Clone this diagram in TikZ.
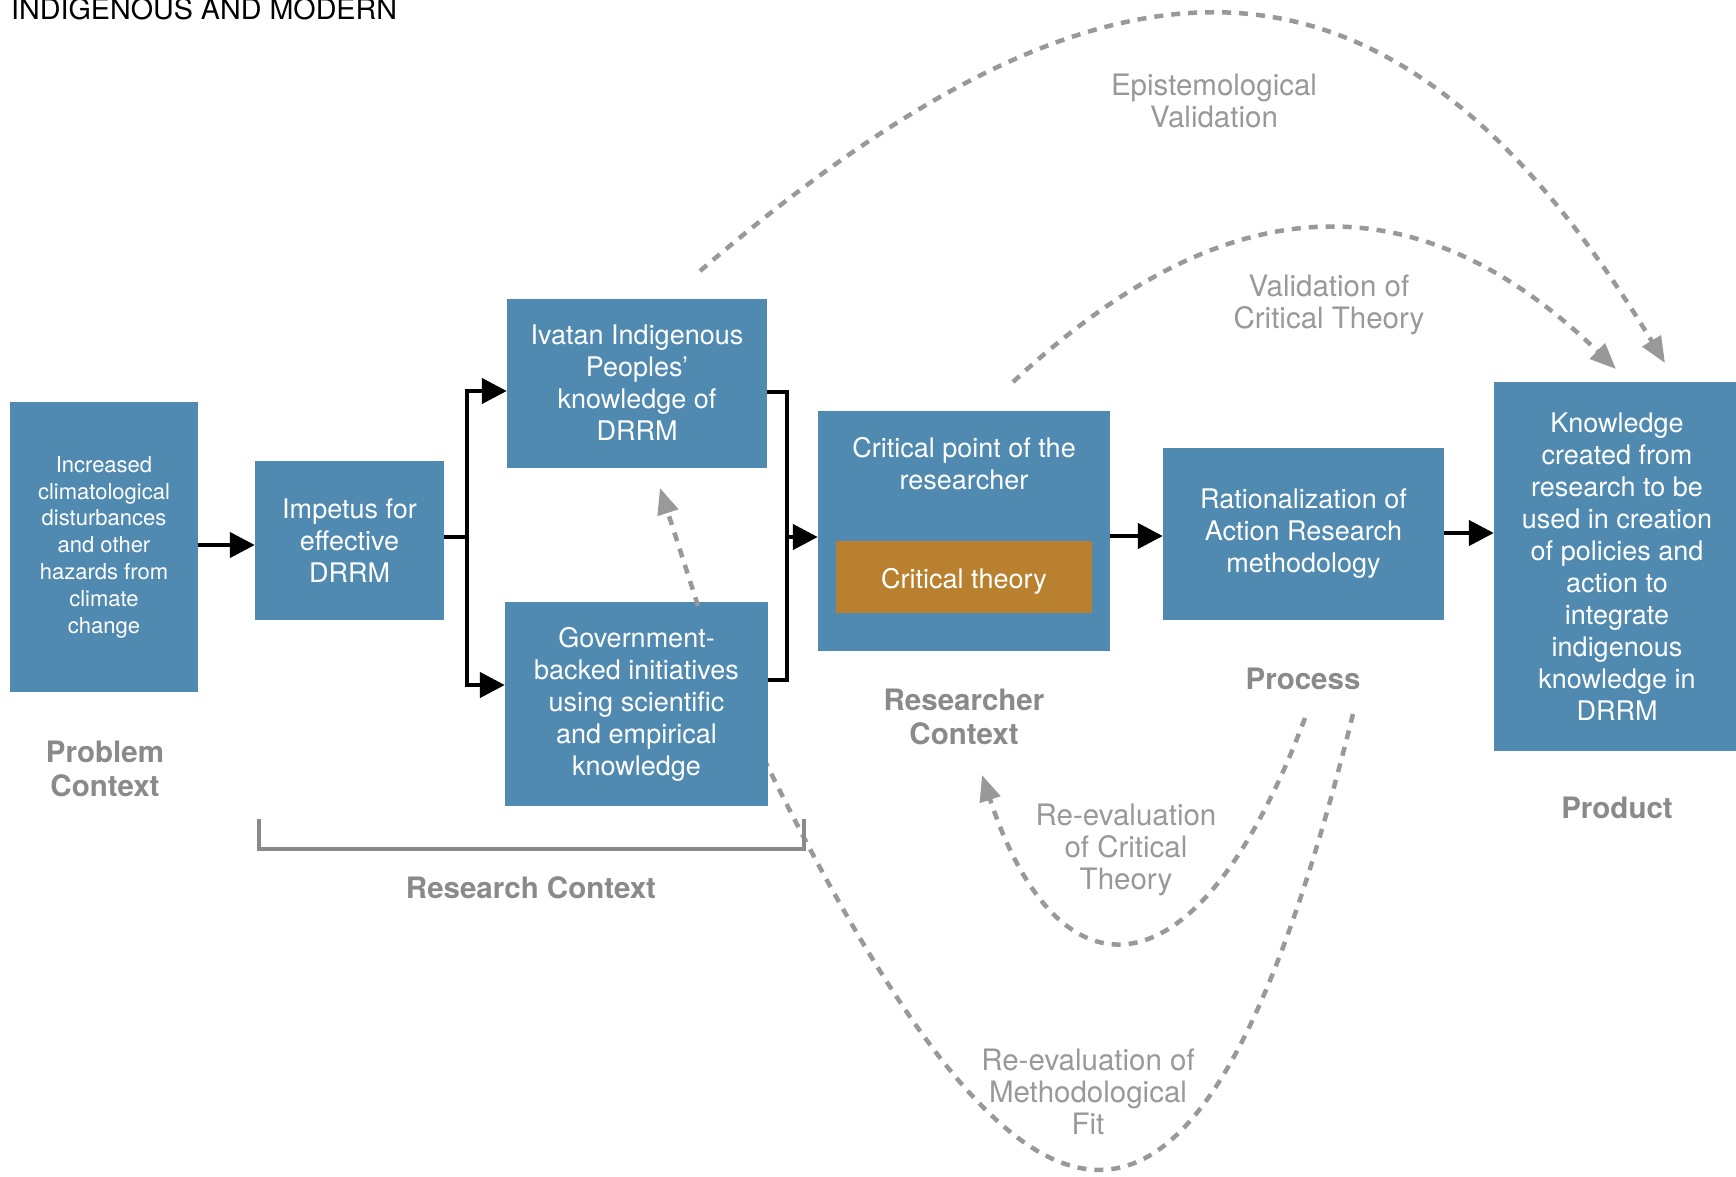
\documentclass[tikz,border=0pt]{standalone}
\usepackage{fontspec}
\setmainfont{TeX Gyre Heros}
\usetikzlibrary{arrows.meta}
\definecolor{boxblue}{HTML}{508AB1}
\definecolor{boxorange}{HTML}{B8802F}
\definecolor{lblgray}{HTML}{8A8A8A}
\definecolor{dashgray}{HTML}{999999}
\begin{document}
\begin{tikzpicture}[x=1pt,y=-1pt,
  box/.style={fill=boxblue, text=white, align=center, inner sep=0pt, anchor=center,
              font=\fontsize{27}{32}\selectfont},
  ctxlbl/.style={text=lblgray, align=center, font=\bfseries\fontsize{29.5}{34}\selectfont},
  fblbl/.style={text=dashgray, align=center, font=\fontsize{29.5}{32}\selectfont},
  flow/.style={line width=4.5pt, draw=black, -{Triangle[length=25pt,width=25pt]}},
  plain/.style={line width=4.5pt, draw=black},
  fb/.style={draw=dashgray, line width=4.5pt, dash pattern=on 9pt off 8pt},
  fbarrow/.style={fb, -{Triangle[length=26pt,width=21pt]}}]
\useasboundingbox (0,0) rectangle (1736,1176);
\fill[white] (0,0) rectangle (1736,1176);

% title
\node[anchor=base west, inner sep=0pt, font=\fontsize{28.7}{30}\selectfont] (title) at (11,19) {INDIGENOUS AND MODERN};

% feedback curve hidden partly behind the government box
\coordinate (m1) at (1353,714);
\coordinate (m2) at (762,755);
\draw[fb] (m1) .. controls (1200,1330) and (1030,1300) .. (m2);

% boxes
\node[box, minimum width=188pt, minimum height=290pt, font=\fontsize{22}{26.8}\selectfont] (prob) at (104,547)
  {Increased\\climatological\\disturbances\\and other\\hazards from\\climate\\change};
\node[box, minimum width=189pt, minimum height=159pt] (imp) at (349.5,540.5)
  {Impetus for\\effective\\DRRM};
\node[box, minimum width=260pt, minimum height=169pt] (iva) at (637,383)
  {Ivatan Indigenous\\Peoples’\\knowledge of\\DRRM};
\node[box, minimum width=263pt, minimum height=204pt] (gov) at (636.5,704)
  {Government-\\backed initiatives\\using scientific\\and empirical\\knowledge};
\node[box, minimum width=292pt, minimum height=240pt] (crit) at (964,531) {};
\node[box, fill=none, anchor=center] (crittxt) at (964,464) {Critical point of the\\researcher};
\node[box, fill=boxorange, minimum width=256pt, minimum height=72pt] (ct) at (964,577) {};
\node[box, fill=none] (cttxt) at (964,581) {Critical theory};
\node[box, minimum width=281pt, minimum height=172pt] (rat) at (1303.5,534)
  {Rationalization of\\Action Research\\methodology};
\node[box, minimum width=246pt, minimum height=369pt] (know) at (1617,566.5)
  {Knowledge\\created from\\research to be\\used in creation\\of policies and\\action to\\integrate\\indigenous\\knowledge in\\DRRM};

% main flow
\draw[flow] (prob.east |- 0,545) -- (imp.west |- 0,545);
\coordinate (bl) at (467,537);
\draw[plain] (imp.east |- bl) -- (bl);
\draw[plain, line join=miter] (bl |- 0,391) -- (bl |- 0,685);
\draw[flow] ([xshift=-2.25pt]bl |- 0,391) -- (iva.west |- 0,391);
\draw[flow] ([xshift=-2.25pt]bl |- 0,685) -- (gov.west |- 0,685);
\coordinate (br) at (787,537);
\draw[plain, line join=miter] (iva.east |- 0,392) -| (br) |- (gov.east |- 0,680);
\draw[flow] (br) -- (crit.west |- br);
\draw[flow] (crit.east |- 0,536) -- (rat.west |- 0,536);
\draw[flow] (rat.east |- 0,533) -- (know.west |- 0,533);

% feedback arrows
\coordinate (gi) at (660,488);
\draw[fbarrow] ([yshift=-4pt]gov.north -| 698,0) -- (gi);
\coordinate (e1) at (700,271);
\coordinate (e2) at (1665,363);
\draw[fbarrow] (e1) .. controls (1115,-85) and (1393,-85) .. (e2);
\coordinate (v1) at (1013,382);
\coordinate (v2) at (1616,369);
\draw[fbarrow] (v1) .. controls (1230,180) and (1420,180) .. (v2);
\coordinate (r1) at (1305,718);
\coordinate (r2) at (982,775);
\draw[fbarrow] (r1) .. controls (1197,1005) and (1058,1005) .. (r2);

% research context bracket
\draw[draw=lblgray, line width=4pt] (259,819) -- (259,849) -- (804,849) -- (804,819);

% labels
\node[ctxlbl] (lprob) at (105,769) {Problem\\Context};
\node[ctxlbl] (lres) at (531,888) {Research Context};
\node[ctxlbl] (lrc) at (964,717) {Researcher\\Context};
\node[ctxlbl] (lproc) at (1303,679) {Process};
\node[ctxlbl] (lprod) at (1617,808) {Product};
\node[fblbl] (lepi) at (1214,101) {Epistemological\\Validation};
\node[fblbl] (lval) at (1329,305) {Validation of\\Critical Theory};
\node[fblbl] (lrec) at (1126,850) {Re-evaluation\\of Critical\\Theory};
\node[fblbl] (lrem) at (1088,1092) {Re-evaluation of\\Methodological\\Fit};
\end{tikzpicture}
\end{document}
